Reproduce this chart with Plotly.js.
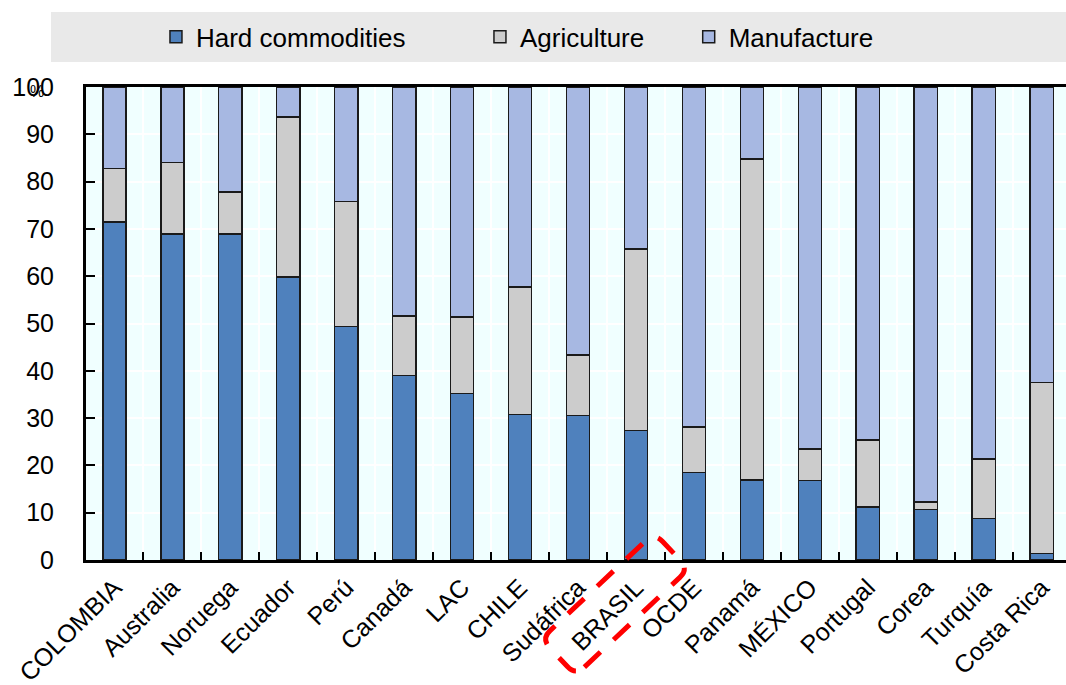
<!DOCTYPE html>
<html>
<head>
<meta charset="utf-8">
<script src="https://cdn.plot.ly/plotly-3.0.1.min.js"></script>
<style>html,body{margin:0;padding:0;background:#fff;}#chart{width:1066px;height:685px;}</style>
</head>
<body>
<div id="chart"></div>
<script>
const categories = ["COLOMBIA","Australia","Noruega","Ecuador","Perú","Canadá","LAC","CHILE","Sudáfrica","BRASIL","OCDE","Panamá","MÉXICO","Portugal","Corea","Turquía","Costa Rica"];
const hardCommodities = [71.5, 68.9, 68.9, 59.8, 49.4, 39.0, 35.2, 30.8, 30.5, 27.4, 18.5, 16.9, 16.8, 11.2, 10.7, 8.8, 1.4];
const agriculture = [11.3, 15.1, 8.9, 33.9, 26.4, 12.6, 16.2, 26.9, 12.8, 38.3, 9.6, 67.9, 6.7, 14.2, 1.6, 12.6, 36.1];
const manufacture = [17.2, 16.0, 22.2, 6.3, 24.2, 48.4, 48.6, 42.3, 56.7, 34.3, 71.9, 15.2, 76.5, 74.6, 87.7, 78.6, 62.5];
const yTicks = [0,10,20,30,40,50,60,70,80,90,100];
const highlighted = "BRASIL";

const FONT = "'Liberation Sans', Arial, sans-serif";
const xRange = [-0.49, 16.42];

function barTrace(name, vals, color, legendId) {
  return {
    type: 'bar', name: name, x: categories, y: vals,
    marker: {color: color, line: {color: '#1a1a1a', width: 1.5}},
    width: 0.4, legend: legendId, hoverinfo: 'x+y+name'
  };
}
const data = [
  barTrace('Hard commodities', hardCommodities, '#4f81bd', 'legend'),
  barTrace('Agriculture', agriculture, '#cccccc', 'legend2'),
  barTrace('Manufacture', manufacture, '#a7b8e2', 'legend3')
];

// rotated rounded dashed rectangle around highlighted label (pixel path)
function roundedRectPath(cx, cy, w, h, r, angDeg) {
  const a = angDeg * Math.PI / 180, c = Math.cos(a), s = Math.sin(a);
  const P = (u, v) => { const x = cx + u*c - v*s, y = cy + u*s + v*c; return x.toFixed(1) + ',' + y.toFixed(1); };
  const hw = w/2, hh = h/2;
  return 'M' + P(-hw + r, -hh) + ' L' + P(hw - r, -hh) + ' Q' + P(hw, -hh) + ' ' + P(hw, -hh + r) +
         ' L' + P(hw, hh - r) + ' Q' + P(hw, hh) + ' ' + P(hw - r, hh) +
         ' L' + P(-hw + r, hh) + ' Q' + P(-hw, hh) + ' ' + P(-hw, hh - r) +
         ' L' + P(-hw, -hh + r) + ' Q' + P(-hw, -hh) + ' ' + P(-hw + r, -hh) + ' Z';
}
const hIdx = categories.indexOf(highlighted);
const anchorX = (hIdx - xRange[0]) / (xRange[1] - xRange[0]);

const legendCommon = {orientation: 'h', bgcolor: 'rgba(0,0,0,0)', borderwidth: 0,
  font: {family: FONT, size: 26, color: '#000'}, yanchor: 'middle', y: 1.106, xanchor: 'left'};

const layout = {
  width: 1066, height: 685,
  margin: {l: 86, r: 0, t: 87, b: 125},
  paper_bgcolor: '#ffffff', plot_bgcolor: '#f0ffff',
  barmode: 'stack', bargap: 0.6,
  font: {family: FONT, size: 25, color: '#000'},
  showlegend: true,
  legend: Object.assign({}, legendCommon, {x: 0.0714}),
  legend2: Object.assign({}, legendCommon, {x: 0.402}),
  legend3: Object.assign({}, legendCommon, {x: 0.615}),
  xaxis: {
    type: 'category', categoryorder: 'array', categoryarray: categories,
    range: xRange, tickson: 'boundaries',
    ticks: 'inside', ticklen: 8, tickwidth: 2, tickcolor: '#000',
    showgrid: true, gridcolor: '#ffffff', gridwidth: 2,
    showline: true, linecolor: '#000', linewidth: 3, mirror: true,
    tickangle: -45, tickfont: {family: FONT, size: 25, color: '#000'},
    zeroline: false, fixedrange: true
  },
  yaxis: {
    range: [0, 100], tickvals: yTicks, ticktext: yTicks.map(String),
    ticks: 'inside', ticklen: 9, tickwidth: 2, tickcolor: '#000',
    showgrid: true, gridcolor: '#ffffff', gridwidth: 2,
    showline: true, linecolor: '#000', linewidth: 3,
    zeroline: false, ticklabelstandoff: 24,
    tickfont: {family: FONT, size: 25, color: '#000'}, fixedrange: true
  },
  shapes: [
    {type: 'rect', xref: 'paper', yref: 'paper', x0: -0.0357, x1: 1, y0: 1.0529, y1: 1.1586,
     fillcolor: '#e9e9e9', line: {width: 0}, layer: 'below'},
    {type: 'path', xref: 'paper', yref: 'paper', xsizemode: 'pixel', ysizemode: 'pixel',
     xanchor: anchorX, yanchor: 0,
     path: roundedRectPath(-21, -44, 155, 50, 12, 43.2),
     line: {color: '#ff0000', width: 5, dash: '22px,18px'}, fillcolor: 'rgba(0,0,0,0)', layer: 'above'}
  ],
  annotations: [
    {xref: 'paper', yref: 'paper', x: -0.05, y: 0.99, text: '%', showarrow: false,
     font: {family: FONT, size: 16, color: '#000'}, xanchor: 'center', yanchor: 'middle'}
  ]
};

Plotly.newPlot('chart', data, layout, {displayModeBar: false, staticPlot: true});
</script>
</body>
</html>
